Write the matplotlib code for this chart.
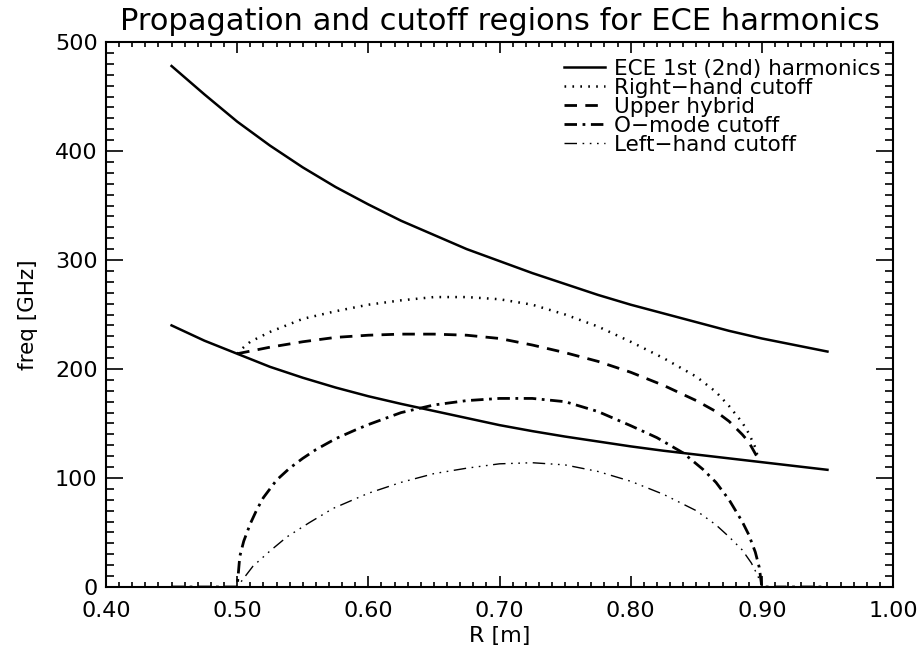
import numpy as np
import matplotlib
matplotlib.use("Agg")
import matplotlib.pyplot as plt
from matplotlib.ticker import MultipleLocator, FormatStrFormatter

plt.rcParams['font.family'] = ['DejaVu Sans']
plt.rcParams['lines.scale_dashes'] = False
plt.rcParams['axes.linewidth'] = 1.5

# readings (R in m, freq in GHz)
r_harm = [0.45, 0.475, 0.50, 0.525, 0.55, 0.575, 0.60, 0.625, 0.65, 0.675, 0.70,
          0.725, 0.75, 0.775, 0.80, 0.825, 0.85, 0.875, 0.90, 0.925, 0.95]
ece_1st = [240, 226, 214, 202, 192, 183, 175, 168, 161.5, 155, 148.5,
           143, 138, 133.5, 129, 125, 121.5, 118, 114.5, 111, 107.5]
ece_2nd = [478, 452, 427, 405, 385, 367, 351, 336, 323, 310, 299,
           288, 278, 268, 259, 251, 243, 235, 228, 222, 216]

r_rh = [0.50, 0.505, 0.51, 0.525, 0.55, 0.575, 0.60, 0.625, 0.65, 0.675, 0.70, 0.725,
        0.75, 0.775, 0.80, 0.825, 0.85, 0.865, 0.875, 0.885, 0.89, 0.895, 0.897]
rh_cut = [214, 220, 225, 234, 246, 253, 259, 263, 266, 266, 264, 259,
          250, 239, 225, 210, 193, 179, 166, 151, 141, 128, 119]

r_uh = [0.50, 0.525, 0.55, 0.575, 0.60, 0.625, 0.65, 0.675, 0.70, 0.725, 0.75,
        0.775, 0.80, 0.825, 0.85, 0.865, 0.875, 0.885, 0.89, 0.897]
uh = [214, 220, 225, 229, 231, 232, 232, 231, 228, 222, 215,
      207, 197, 185, 171, 161, 152, 140, 133, 118]

r_om = [0.45, 0.50, 0.502, 0.505, 0.51, 0.515, 0.52, 0.53, 0.54, 0.55, 0.56, 0.575,
        0.59, 0.60, 0.625, 0.65, 0.675, 0.70, 0.725, 0.75, 0.775, 0.80, 0.82, 0.84,
        0.855, 0.865, 0.875, 0.885, 0.89, 0.895, 0.898, 0.90, 0.95]
om_cut = [0, 0, 28, 42, 58, 71, 82, 98, 109, 118, 126, 136,
          144, 149, 160, 167, 171, 173, 173, 170, 161, 148, 137, 123,
          108, 96, 80, 60, 48, 32, 18, 0, 0]

r_lh = [0.45, 0.50, 0.505, 0.512, 0.525, 0.538, 0.555, 0.573, 0.60, 0.625, 0.65, 0.675,
        0.70, 0.725, 0.75, 0.775, 0.80, 0.825, 0.85, 0.865, 0.875, 0.885, 0.892,
        0.897, 0.90, 0.95]
lh_cut = [0, 0, 8, 19, 33, 46, 59, 72, 86, 96, 104, 109,
          113, 114, 112, 106, 97, 85, 70, 57, 46, 34, 22,
          10, 0, 0]

fig = plt.figure(figsize=(9.24, 6.64), dpi=100)
ax = fig.add_axes([0.1147, 0.116, 0.8518, 0.8207])

ax.plot(r_harm, ece_1st, c='k', lw=1.8, label='ECE 1st (2nd) harmonics')
ax.plot(r_harm, ece_2nd, c='k', lw=1.8)
ax.plot(r_rh, rh_cut, c='k', lw=1.8, ls=(0, (1.2, 4.5)), label='Right\u2212hand cutoff')
ax.plot(r_uh, uh, c='k', lw=2.0, ls=(0, (9, 6)), label='Upper hybrid')
ax.plot(r_om, om_cut, c='k', lw=2.0, ls=(0, (9, 4, 2, 4)), label='O\u2212mode cutoff')
ax.plot(r_lh, lh_cut, c='k', lw=1.0, ls=(0, (9, 4, 1.2, 4, 1.2, 4, 1.2, 4)),
        label='Left\u2212hand cutoff')

ax.set_xlim(0.40, 1.00)
ax.set_ylim(0, 500)
ax.xaxis.set_major_locator(MultipleLocator(0.1))
ax.xaxis.set_minor_locator(MultipleLocator(0.01))
ax.yaxis.set_major_locator(MultipleLocator(100))
ax.yaxis.set_minor_locator(MultipleLocator(10))
ax.xaxis.set_major_formatter(FormatStrFormatter('%.2f'))

ax.tick_params(axis='both', which='both', direction='in', top=True, right=True,
               labelsize=16, width=1.2)
ax.tick_params(axis='x', which='major', length=8, pad=10)
ax.tick_params(axis='x', which='minor', length=3.5)
ax.tick_params(axis='y', which='major', length=12, pad=6)
ax.tick_params(axis='y', which='minor', length=6)

ax.set_xlabel('R [m]', fontsize=16, labelpad=4)
ax.set_ylabel('freq [GHz]', fontsize=15.5, labelpad=12)
ax.set_title('Propagation and cutoff regions for ECE harmonics', fontsize=22, pad=9)

ax.legend(loc='upper right', frameon=False, fontsize=15.5, handlelength=1.9,
          handletextpad=0.4, labelspacing=-0.05, borderaxespad=0.0,
          bbox_to_anchor=(0.995, 0.985))

fig.savefig('out.png', dpi=100)
